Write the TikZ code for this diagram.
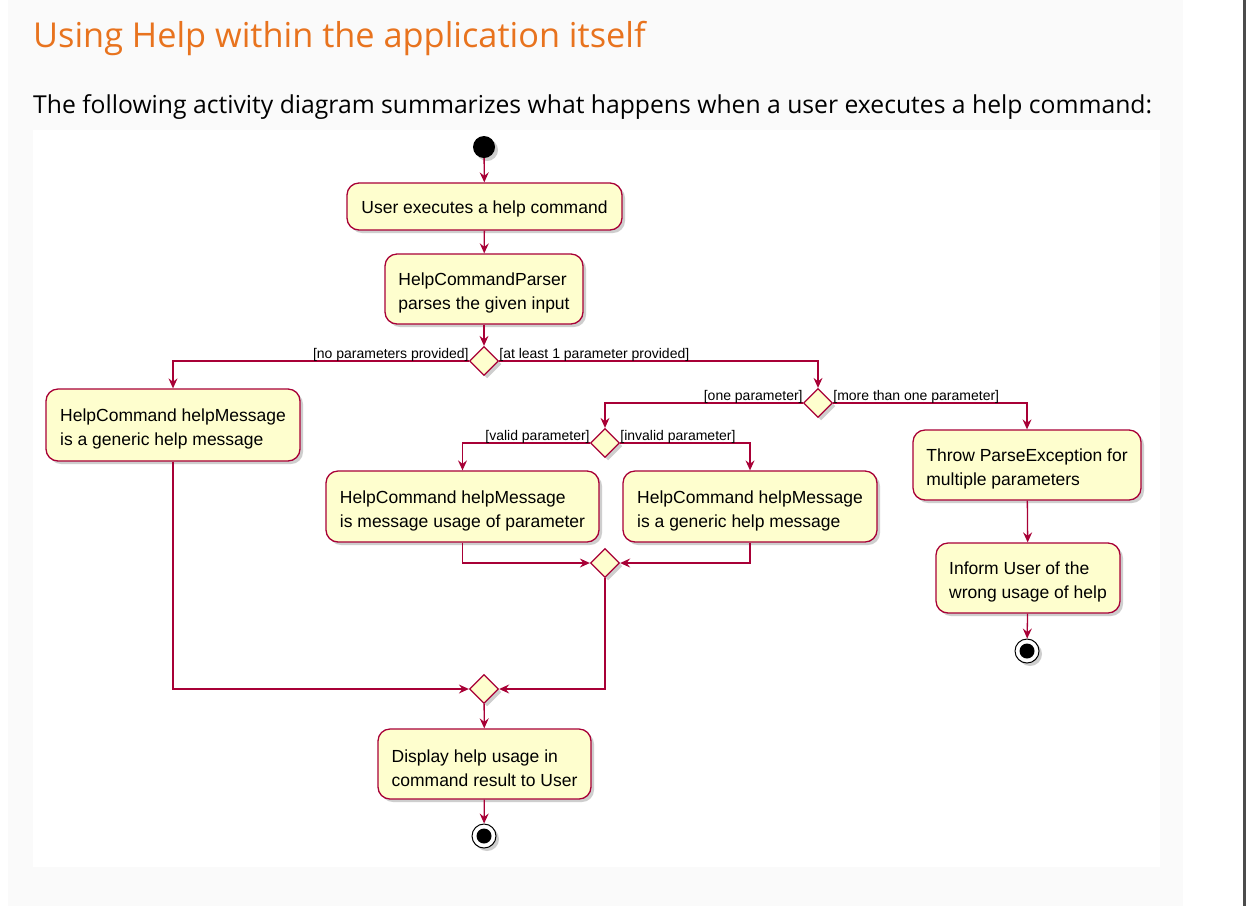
\documentclass[tikz,border=0pt]{standalone}
\usepackage{fontspec}
\setmainfont{Liberation Sans}
\newfontfamily\pagefont{Open Sans}
\usetikzlibrary{arrows.meta,shapes.geometric,shadows}
\definecolor{pr}{HTML}{A80036}
\definecolor{py}{HTML}{FEFECE}
\definecolor{ttl}{HTML}{E8731E}
\definecolor{panel}{HTML}{FAFAFA}
\newcommand\tstrut{\rule{0pt}{21pt}}
\newcommand\sstrut{\rule{0pt}{18.5pt}}
\begin{document}
\begin{tikzpicture}[x=1pt,y=-1pt,
 shd/.style={drop shadow={shadow xshift=3pt,shadow yshift=-3pt,opacity=0.35,fill=black!55}},
 act/.style={draw=pr, fill=py, line width=1.3pt, rounded corners=12pt, align=left,
   font=\fontsize{17.5}{24}\selectfont, inner xsep=0pt, inner ysep=0pt, shd},
 dec/.style={diamond, draw=pr, fill=py, line width=1.3pt, minimum width=29pt,
   minimum height=29pt, inner sep=0pt, shd},
 arr/.style={draw=pr, line width=1.3pt, -{Stealth[length=10pt,width=9pt,inset=3.5pt]}},
 grd/.style={font=\fontsize{14}{16}\selectfont, inner sep=0pt},
 startnode/.style={circle, fill=black, minimum size=22pt, inner sep=0pt, shd},
 endnode/.style={circle, draw=black, line width=1pt, fill=white, minimum size=24pt, inner sep=0pt, shd},
]
% page background
\fill[white] (0,0) rectangle (1246,906);
\fill[panel] (8,0) rectangle (1183,906);
\fill[white] (33,130) rectangle (1160,867);
\fill[black!70] (1243,0) rectangle (1246,906);

\node[anchor=base west, inner sep=0pt, text=ttl, font=\pagefont\fontsize{34.3}{40}\selectfont] (title) at (33,47) {Using Help within the application itself};
\node[anchor=base west, inner sep=0pt, font=\pagefont\fontsize{24.7}{30}\selectfont] (intro) at (33,113) {The following activity diagram summarizes what happens when a user executes a help command:};

% nodes
\node[startnode] (s) at (484,147) {};
\node[act, minimum width=275pt, minimum height=47pt] (b1) at (484.5,206.5) {\sstrut User executes a help command};
\node[act, minimum width=198pt, minimum height=70pt] (b2) at (484,289) {\tstrut HelpCommandParser\\parses the given input};
\node[dec] (d1) at (484,361) {};
\node[act, minimum width=254pt, minimum height=72pt] (b3) at (173,425) {\tstrut HelpCommand helpMessage\\is a generic help message};
\node[dec] (d2) at (818,403) {};
\node[dec] (d3) at (605,443) {};
\node[act, minimum width=273pt, minimum height=71pt] (b4) at (462.5,506.5) {\tstrut HelpCommand helpMessage\\is message usage of parameter};
\node[act, minimum width=254pt, minimum height=71pt] (b5) at (750,506.5) {\tstrut HelpCommand helpMessage\\is a generic help message};
\node[act, minimum width=228pt, minimum height=70pt] (b6) at (1027,465) {\tstrut Throw ParseException for\\multiple parameters};
\node[act, minimum width=184pt, minimum height=70pt] (b8) at (1028,578) {\tstrut Inform User of the\\wrong usage of help};
\node[endnode] (e2) at (1027,651) {};
\fill (e2.center) circle (7.5pt);
\node[dec] (d4) at (605,563) {};
\node[dec] (d5) at (484,689) {};
\node[act, minimum width=213pt, minimum height=70pt] (b7) at (484.5,764) {\tstrut Display help usage in\\command result to User};
\node[endnode] (e1) at (484,836) {};
\fill (e1.center) circle (7.5pt);

% connectors
\draw[arr] (s) -- (b1);
\draw[arr] (b1) -- (b2);
\draw[arr] (b2) -- (d1);
\draw[arr] (d1.west) -| (b3.north);
\draw[arr] (d1.east) -| (d2.north);
\draw[arr] (d2.west) -| (d3.north);
\draw[arr] (d2.east) -| (b6.north);
\draw[arr] (d3.west) -| (b4.north);
\draw[arr] (d3.east) -| (b5.north);
\draw[arr] (b4.south) |- (d4.west);
\draw[arr] (b5.south) |- (d4.east);
\draw[arr] (d4.south) |- (d5.east);
\draw[arr] (b3.south) |- (d5.west);
\draw[arr] (d5) -- (b7);
\draw[arr] (b7) -- (e1);
\draw[arr] (b6) -- (b8);
\draw[arr] (b8) -- (e2);

% guards
\node[grd, anchor=base east] (g1) at ([yshift=3pt]d1.west) {[no parameters provided]};
\node[grd, anchor=base west] (g2) at ([yshift=3pt]d1.east) {[at least 1 parameter provided]};
\node[grd, anchor=base east] (g3) at ([yshift=3pt]d2.west) {[one parameter]};
\node[grd, anchor=base west] (g4) at ([yshift=3pt]d2.east) {[more than one parameter]};
\node[grd, anchor=base east] (g5) at ([yshift=3pt]d3.west) {[valid parameter]};
\node[grd, anchor=base west] (g6) at ([yshift=3pt]d3.east) {[invalid parameter]};
\end{tikzpicture}
\end{document}
